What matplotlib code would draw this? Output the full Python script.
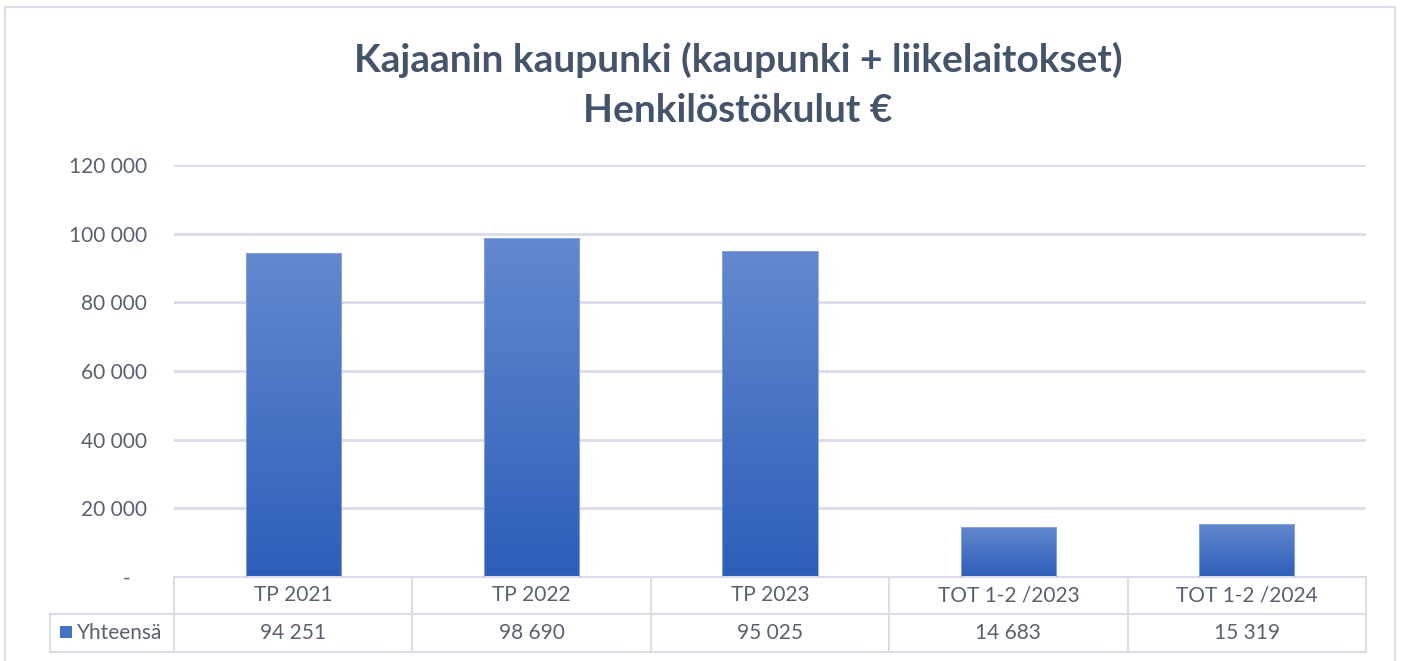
import numpy as np
import matplotlib.pyplot as plt
from matplotlib.patches import Rectangle
from matplotlib.ticker import FuncFormatter

# --------------------------------------------------
# Data
# --------------------------------------------------
categories = ["TP 2021", "TP 2022", "TP 2023", "TOT 1-2 /2023", "TOT 1-2 /2024"]
values = [94251, 98690, 95025, 14683, 15319]
series_name = "Yhteensä"
title_lines = ["Kajaanin kaupunki (kaupunki + liikelaitokset)", "Henkilöstökulut €"]
y_ticks = [0, 20000, 40000, 60000, 80000, 100000, 120000]

plt.rcParams["font.family"] = ["Lato", "DejaVu Sans"]

text_col = "#59616f"
title_col = "#44546a"
grid_col = "#d9dde6"
top_col = np.array([0x63, 0x88, 0xcf]) / 255
bot_col = np.array([0x2d, 0x5e, 0xb9]) / 255
fs = 15


def fmt(v):
    return f"{int(v):,}".replace(",", " ")


# --------------------------------------------------
# Figure
# --------------------------------------------------
fig = plt.figure(figsize=(14.05, 6.61), dpi=100)
fig.patches.append(Rectangle((5 / 1405, -0.01), 1390 / 1405, (661 - 7) / 661 + 0.01,
                             transform=fig.transFigure, fill=False,
                             edgecolor=grid_col, linewidth=1.5))

fig.text(738 / 1405, 1 - 60 / 661, title_lines[0], ha="center", va="center",
         fontsize=28, fontweight="bold", color=title_col)
fig.text(738 / 1405, 1 - 110 / 661, title_lines[1], ha="center", va="center",
         fontsize=28, fontweight="bold", color=title_col)

ax = fig.add_axes([174 / 1405, (661 - 577) / 661, 1192 / 1405, 412 / 661])
x = np.arange(len(categories))

for s in ax.spines.values():
    s.set_visible(False)
ax.set_xticks([])
ax.set_yticks(y_ticks)
# accounting-style zero: dash with some padding on the right
ax.yaxis.set_major_formatter(FuncFormatter(lambda v, p: "-   " if v == 0 else fmt(v)))
ax.tick_params(axis="y", length=0, pad=19.5, labelsize=fs, labelcolor=text_col)
ax.grid(axis="y", color=grid_col, linewidth=2)
ax.set_axisbelow(True)

# gradient bars
bars = ax.bar(x, values, width=0.4, color="none", edgecolor="#8eaadf", linewidth=0.6, zorder=3)
grad = np.linspace(0, 1, 256)[:, None, None]
img = bot_col * (1 - grad) + top_col * grad
for b in bars:
    x0, w, h = b.get_x(), b.get_width(), b.get_height()
    im = ax.imshow(img, extent=[x0, x0 + w, 0, h], origin="lower",
                   aspect="auto", zorder=2)
    im.set_clip_path(b)
ax.set_aspect("auto")
ax.set_xlim(-0.5, len(categories) - 0.5)
ax.set_ylim(0, 120000)

# --------------------------------------------------
# Data table
# --------------------------------------------------
tr = ax.get_xaxis_transform()
r0, r1, r2 = 0.0, -0.0898, -0.182
lw = 1.5
lab_left = -0.5 - 124 / 238.4
ax.plot([-0.5, 4.5], [r0, r0], transform=tr, color=grid_col, lw=lw, clip_on=False)
ax.plot([lab_left, 4.5], [r1, r1], transform=tr, color=grid_col, lw=lw, clip_on=False)
ax.plot([lab_left, 4.5], [r2, r2], transform=tr, color=grid_col, lw=lw, clip_on=False)
ax.plot([lab_left, lab_left], [r1, r2], transform=tr, color=grid_col, lw=lw, clip_on=False)
for b in np.arange(len(categories) + 1) - 0.5:
    ax.plot([b, b], [r0, r2], transform=tr, color=grid_col, lw=lw, clip_on=False)

for xi, cat, v in zip(x, categories, values):
    ax.text(xi, (r0 + r1) / 2, cat, transform=tr, ha="center", va="center",
            fontsize=fs, color=text_col)
    ax.text(xi, (r1 + r2) / 2, fmt(v), transform=tr, ha="center", va="center",
            fontsize=fs, color=text_col)

ax.add_patch(Rectangle((lab_left + 10 / 238.4, (r1 + r2) / 2 - 0.013), 12 / 238.4, 0.029,
                       transform=tr, facecolor="#4472c4", clip_on=False))
ax.text(lab_left + 27 / 238.4, (r1 + r2) / 2, series_name, transform=tr,
        ha="left", va="center", fontsize=fs, color=text_col)

fig.savefig("out.png", dpi=100)
